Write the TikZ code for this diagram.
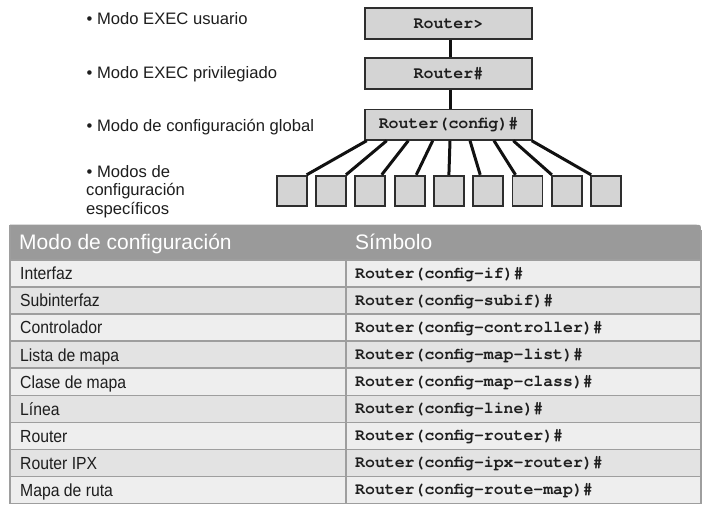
\documentclass[tikz,border=0pt]{standalone}
\usepackage{fontspec}
\setmainfont{Liberation Sans}
\newfontfamily\narrowfont[FakeStretch=0.9]{Liberation Sans}
\newfontfamily\codefont{texgyrecursor}[Extension=.otf,
  UprightFont=*-regular, BoldFont=*-bold]

\definecolor{boxfill}{HTML}{D4D4D4}
\definecolor{boxline}{HTML}{2E2E2E}
\definecolor{linkcol}{HTML}{111111}
\definecolor{textcol}{HTML}{1E1E1E}
\definecolor{headfill}{HTML}{9A9A9A}
\definecolor{rowa}{HTML}{EEEEEE}
\definecolor{rowb}{HTML}{E3E3E3}
\definecolor{rowline}{HTML}{9E9E9E}

\begin{document}
\begin{tikzpicture}[x=1pt,y=-1pt,
  modebox/.style={draw=boxline, fill=boxfill, line width=1.5pt,
    minimum width=167pt, minimum height=31pt, inner sep=0pt,
    font=\codefont\bfseries\fontsize{16.6}{18}\selectfont, text=textcol},
  subbox/.style={draw=boxline, fill=boxfill, line width=1.8pt,
    minimum width=30pt, minimum height=30pt, inner sep=0pt},
  link/.style={draw=linkcol, line width=3pt},
  label/.style={anchor=base west, inner sep=0pt, text=textcol,
    font=\fontsize{16.6}{19}\selectfont},
  headtext/.style={anchor=base west, inner sep=0pt, text=white,
    font=\fontsize{21}{23}\selectfont},
  celltext/.style={anchor=base west, inner sep=0pt, text=textcol,
    font=\narrowfont\fontsize{17.5}{19}\selectfont},
  codetext/.style={anchor=base west, inner sep=0pt, text=textcol,
    font=\codefont\bfseries\fontsize{16.5}{18}\selectfont}]

\useasboundingbox (0,0) rectangle (704,504);
\fill[white] (0,0) rectangle (704,504);

% --- mode labels on the left
\node[label] (lu) at (86.5,24)    {• Modo EXEC usuario};
\node[label] (lp) at (86.5,78)    {• Modo EXEC privilegiado};
\node[label] (lg) at (86.5,131.3) {• Modo de configuración global};
\node[label] (ls1) at (86.5,177)  {• Modos de};
\node[label] (ls2) at (86,195.8)  {configuración};
\node[label] (ls3) at (86,214.5)  {específicos};

% --- mode hierarchy
\node[modebox] (user)   at (448.5,23.3)  {Router>};
\node[modebox] (priv)   at (448.5,73.3)  {Router\#};
\node[modebox, minimum height=30.5pt] (global) at (448.5,124.7) {Router(config)\#};

\draw[link] ([xshift=2pt]user.south) -- ([xshift=2pt]priv.north);
\draw[link] ([xshift=2pt]priv.south) -- ([xshift=2pt]global.north);

% --- specific configuration modes
\foreach \i in {1,...,9}
  \node[subbox] (s\i) at ({291.7+(\i-1)*39.3},190.7) {};

\foreach \i/\a/\b in {1/-81.8/15, 2/-61.8/15, 3/-40.2/11.4, 4/-15.8/6.7,
                      5/1.5/0, 6/21.5/-8, 7/45.5/-12, 8/64.8/-15, 9/83.2/-15}
  \draw[link] ([xshift=\a pt]global.south) -- ([xshift=\b pt]s\i.north);

% --- table header
\fill[headfill] (10,260) -- (10,224.7) -- (695,224.7)
  .. controls (701,224.7) .. (701,230.7) -- (701,260) -- cycle;
\node[headtext] (h1) at (19,249.7)  {Modo de configuración};
\node[headtext] (h2) at (355,249.7) {Símbolo};

% --- table rows
\foreach \k/\rc/\mode/\sym in {
    0/rowa/Interfaz/Router(config-if)\#,
    1/rowb/Subinterfaz/Router(config-subif)\#,
    2/rowa/Controlador/Router(config-controller)\#,
    3/rowb/Lista de mapa/Router(config-map-list)\#,
    4/rowa/Clase de mapa/Router(config-map-class)\#,
    5/rowb/Línea/Router(config-line)\#,
    6/rowa/Router/Router(config-router)\#,
    7/rowb/Router IPX/Router(config-ipx-router)\#,
    8/rowa/Mapa de ruta/Router(config-route-map)\#}{
  \pgfmathsetmacro{\ytop}{260+\k*27.06}
  \pgfmathsetmacro{\ymid}{\ytop+13.53}
  \fill[\rc] (10,\ytop) rectangle (701,\ytop+27.06);
  \draw[rowline, line width=1.6pt] (10,\ytop) -- (701,\ytop);
  \node[celltext] (m\k) at (20,\ymid+6.3) {\mode};
  \node[codetext] (c\k) at (355,\ymid+4.8) {\sym};
}
\draw[rowline, line width=1.6pt] (10,503.6) -- (701,503.6);
\draw[rowline, line width=1.4pt] (10,224.7) -- (10,504);
\draw[rowline, line width=1.4pt] (346,260) -- (346,504);
\draw[rowline, line width=1.4pt] (701,230) -- (701,504);
\end{tikzpicture}
\end{document}
